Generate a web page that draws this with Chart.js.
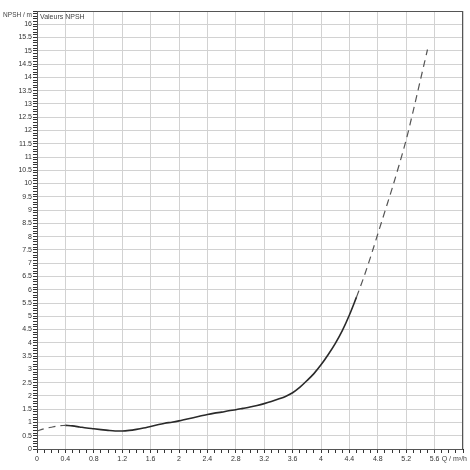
<!DOCTYPE html>
<html>
<head>
<meta charset="utf-8">
<script src="https://cdn.jsdelivr.net/npm/chart.js@4.4.1/dist/chart.umd.min.js"></script>
<style>
  html, body { margin: 0; padding: 0; background: #fff; }
  #wrap { width: 470px; height: 470px; }
</style>
</head>
<body>
<div id="wrap"><canvas id="npsh-chart"></canvas></div>
<script>
// NPSH curve (Q in m3/h, NPSH in m)
const flowStart = [0, 0.1, 0.2, 0.3, 0.4];
const npshStart = [0.68, 0.76, 0.82, 0.87, 0.89];

const flowMain = [0.4, 0.5, 0.6, 0.7, 0.8, 0.9, 1.0, 1.1, 1.2, 1.3, 1.4, 1.5, 1.6, 1.7,
  1.8, 1.9, 2.0, 2.1, 2.2, 2.3, 2.4, 2.5, 2.6, 2.7, 2.8, 2.9, 3.0, 3.1, 3.2, 3.3, 3.4,
  3.5, 3.6, 3.7, 3.8, 3.9, 4.0, 4.1, 4.2, 4.3, 4.4, 4.5];
const npshMain = [0.89, 0.87, 0.83, 0.79, 0.76, 0.73, 0.70, 0.68, 0.68, 0.70, 0.74, 0.79,
  0.85, 0.91, 0.97, 1.01, 1.06, 1.12, 1.18, 1.24, 1.30, 1.35, 1.39, 1.44, 1.48, 1.53,
  1.58, 1.64, 1.71, 1.79, 1.88, 1.98, 2.12, 2.32, 2.57, 2.84, 3.17, 3.55, 3.97, 4.46,
  5.05, 5.72];

const flowEnd = [4.5, 4.6, 4.7, 4.8, 4.9, 5.0, 5.1, 5.2, 5.3, 5.4, 5.5];
const npshEnd = [5.72, 6.45, 7.25, 8.1, 8.95, 9.8, 10.7, 11.65, 12.75, 13.9, 15.05];

const X_MAX = 6;
const Y_MAX = 16.5;

const LABEL_FONT = { family: '"Liberation Sans", Arial, sans-serif', size: 7 };

function toPoints(xs, ys) {
  return xs.map((x, i) => ({ x: x, y: ys[i] }));
}

function isMultiple(v, step) {
  const r = v / step;
  return Math.abs(r - Math.round(r)) < 1e-6;
}

// frame around the plot area plus the small captions
const framePlugin = {
  id: 'frame',
  beforeDraw(chart) {
    const c = chart.ctx;
    c.save();
    c.fillStyle = '#fff';
    c.fillRect(0, 0, chart.width, chart.height);
    c.restore();
  },
  afterDraw(chart) {
    const c = chart.ctx;
    const a = chart.chartArea;
    c.save();
    c.strokeStyle = '#555';
    c.lineWidth = 1;
    c.strokeRect(Math.round(a.left) + 0.5, Math.round(a.top) + 0.5,
      Math.round(a.right - a.left) - 1, Math.round(a.bottom - a.top));
    c.fillStyle = '#444';
    c.font = '7px "Liberation Sans", Arial, sans-serif';
    c.textBaseline = 'middle';
    c.textAlign = 'left';
    c.fillText('Valeurs NPSH', a.left + 3, a.top + 6);
    c.textAlign = 'right';
    c.fillText('Q / m³/h', chart.width - 3, a.bottom + 10);
    c.font = '6.5px "Liberation Sans", Arial, sans-serif';
    c.fillText('NPSH / m', a.left - 5, a.top + 4);
    c.restore();
  }
};

const ctx = document.getElementById('npsh-chart').getContext('2d');

new Chart(ctx, {
  type: 'line',
  data: {
    datasets: [
      {
        data: toPoints(flowStart, npshStart),
        borderColor: '#555',
        borderWidth: 1.2,
        borderDash: [7, 5],
        pointRadius: 0,
        cubicInterpolationMode: 'monotone'
      },
      {
        data: toPoints(flowMain, npshMain),
        borderColor: '#2a2a2a',
        borderWidth: 1.6,
        pointRadius: 0,
        cubicInterpolationMode: 'monotone'
      },
      {
        data: toPoints(flowEnd, npshEnd),
        borderColor: '#555',
        borderWidth: 1.2,
        borderDash: [7, 5],
        pointRadius: 0,
        cubicInterpolationMode: 'monotone'
      }
    ]
  },
  plugins: [framePlugin],
  options: {
    responsive: true,
    maintainAspectRatio: false,
    animation: false,
    layout: { padding: { top: 11, right: 7, left: 0, bottom: 0 } },
    plugins: {
      legend: { display: false },
      tooltip: { enabled: false }
    },
    scales: {
      x: {
        type: 'linear',
        min: 0,
        max: X_MAX,
        afterFit: function(scale) { scale.height = 21; },
        border: { color: '#222', width: 1 },
        grid: {
          color: function(c) {
            return c.tick && isMultiple(c.tick.value, 0.4) ? '#d2d2d2' : 'rgba(0,0,0,0)';
          },
          tickColor: '#333',
          tickLength: 4
        },
        ticks: {
          stepSize: 0.1,
          autoSkip: false,
          maxRotation: 0,
          padding: 2,
          color: '#333',
          font: LABEL_FONT,
          callback: function(value) {
            if (value >= X_MAX - 1e-6) return '';
            return isMultiple(value, 0.4) ? String(Math.round(value * 10) / 10) : '';
          }
        }
      },
      y: {
        min: 0,
        max: Y_MAX,
        afterFit: function(scale) { scale.width = 37; },
        border: { color: '#222', width: 1 },
        grid: {
          color: function(c) {
            return c.tick && isMultiple(c.tick.value, 0.5) ? '#d2d2d2' : 'rgba(0,0,0,0)';
          },
          tickColor: '#333',
          tickLength: 4
        },
        ticks: {
          stepSize: 0.1,
          autoSkip: false,
          padding: 1,
          color: '#333',
          font: LABEL_FONT,
          callback: function(value) {
            if (value >= Y_MAX - 1e-6) return '';
            return isMultiple(value, 0.5) ? String(Math.round(value * 10) / 10) : '';
          }
        }
      }
    }
  }
});
</script>
</body>
</html>
